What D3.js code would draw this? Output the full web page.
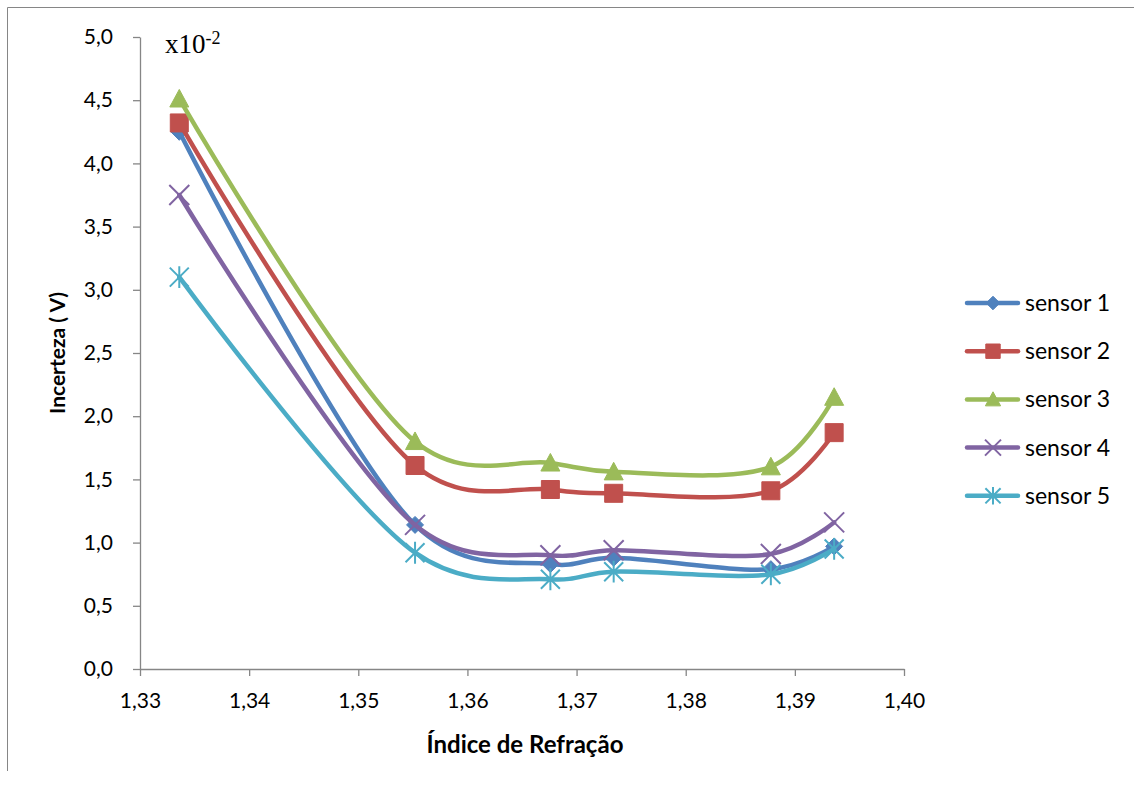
<!DOCTYPE html>
<html><head><meta charset="utf-8">
<script src="https://cdn.jsdelivr.net/npm/d3@7"></script>
<style>body{margin:0;background:#fff}svg{display:block}</style>
</head><body>
<svg id="c" width="1134" height="787"></svg>
<script>
const xValues = [1.3336, 1.3552, 1.3676, 1.3734, 1.3878, 1.3936];
const sensor1 = [4.25, 1.14, 0.83, 0.88, 0.79, 0.97];
const sensor2 = [4.32, 1.61, 1.42, 1.39, 1.41, 1.87];
const sensor3 = [4.51, 1.80, 1.63, 1.56, 1.60, 2.15];
const sensor4 = [3.75, 1.14, 0.90, 0.94, 0.91, 1.16];
const sensor5 = [3.10, 0.92, 0.71, 0.77, 0.75, 0.95];
const seriesNames = ["sensor 1", "sensor 2", "sensor 3", "sensor 4", "sensor 5"];
const xTicks = [1.33, 1.34, 1.35, 1.36, 1.37, 1.38, 1.39, 1.40];
const yTicks = [0, 0.5, 1, 1.5, 2, 2.5, 3, 3.5, 4, 4.5, 5];
const xTitle = "Índice de Refração";
const yTitle = "Incerteza ( V)";

const colors = ["#4F81BD", "#C0504D", "#9BBB59", "#8064A2", "#4BACC6"];
const markerTypes = ["diamond", "square", "triangle", "x", "star"];
const allSeries = [sensor1, sensor2, sensor3, sensor4, sensor5];

const svg = d3.select("#c");
const font = "Lato, 'Liberation Sans', sans-serif";

// chart border
svg.append("path").attr("d", "M7.5,771 V7.5 H1134").attr("fill", "none").attr("stroke", "#868686").attr("stroke-width", 1);

const x = d3.scaleLinear().domain([1.33, 1.40]).range([140, 904]);
const y = d3.scaleLinear().domain([0, 5]).range([669, 37]);
const fmt = v => d3.format(".2f")(v).replace(".", ",");
const fmtY = v => d3.format(".1f")(v).replace(".", ",");

const xAxis = svg.append("g").attr("transform", "translate(0,669)")
  .call(d3.axisBottom(x).tickValues(xTicks).tickFormat(fmt).tickSizeInner(7).tickSizeOuter(0).tickPadding(17));
const yAxis = svg.append("g").attr("transform", "translate(140,0)")
  .call(d3.axisLeft(y).tickValues(yTicks).tickFormat(fmtY).tickSizeInner(7).tickSizeOuter(0).tickPadding(20));
[xAxis, yAxis].forEach(a => {
  a.selectAll("path.domain").attr("stroke", "#868686").attr("stroke-width", 1.3);
  a.selectAll("line").attr("stroke", "#868686").attr("stroke-width", 1.3);
  a.selectAll("text").attr("font-family", font).attr("font-size", 21).attr("fill", "#000");
});

// multiplier
const mult = svg.append("text").attr("x", 165).attr("y", 53).attr("font-family", "'Liberation Serif', serif").attr("font-size", 27).attr("fill", "#000");
mult.append("tspan").text("x10");
mult.append("tspan").attr("dy", -9).attr("font-size", 18).text("-2");

// titles
svg.append("text").attr("x", 525).attr("y", 753).attr("text-anchor", "middle")
  .attr("font-family", font).attr("font-weight", "bold").attr("font-size", 24).text(xTitle);
svg.append("text").attr("transform", "translate(65,353) rotate(-90)").attr("text-anchor", "middle")
  .attr("font-family", font).attr("font-weight", "bold").attr("font-size", 21).text(yTitle);

function markerPath(type, s) {
  const h = s / 2;
  switch (type) {
    case "diamond": return `M0,${-h}L${h},0L0,${h}L${-h},0Z`;
    case "square": return `M${-h},${-h}H${h}V${h}H${-h}Z`;
    case "triangle": return `M0,${-h}L${h},${h * 0.85}H${-h}Z`;
    case "x": return `M${-h},${-h}L${h},${h}M${h},${-h}L${-h},${h}`;
    case "star": return `M${-h},${-h}L${h},${h}M${h},${-h}L${-h},${h}M0,${-h * 1.15}V${h * 1.15}`;
  }
}
const markerSize = [17, 18, 19, 20, 19];
function drawMarker(g, type, color, cx, cy, s) {
  const filled = !(type === "x" || type === "star");
  g.append("path").attr("transform", `translate(${cx},${cy})`).attr("d", markerPath(type, s))
    .attr("fill", filled ? color : "none").attr("stroke", color)
    .attr("stroke-width", filled ? 1 : 2);
}

const line = d3.line().x(d => x(d[0])).y(d => y(d[1])).curve(d3.curveCatmullRom.alpha(0.25));

allSeries.forEach((vals, i) => {
  const pts = vals.map((v, j) => [xValues[j], v]);
  const g = svg.append("g");
  g.append("path").attr("d", line(pts)).attr("fill", "none").attr("stroke", colors[i])
    .attr("stroke-width", 4.5).attr("stroke-linejoin", "round").attr("stroke-linecap", "round");
  pts.forEach(p => drawMarker(g, markerTypes[i], colors[i], x(p[0]), y(p[1]), markerSize[i]));
});

// legend
const leg = svg.append("g");
seriesNames.forEach((name, i) => {
  const cy = 303 + i * 48.2;
  leg.append("line").attr("x1", 967).attr("x2", 1018).attr("y1", cy).attr("y2", cy)
    .attr("stroke", colors[i]).attr("stroke-width", 4.5).attr("stroke-linecap", "round");
  drawMarker(leg, markerTypes[i], colors[i], 993, cy, markerSize[i] * 0.8);
  leg.append("text").attr("x", 1025).attr("y", cy + 8).attr("font-family", font).attr("font-size", 23).text(name);
});
</script>
</body></html>
